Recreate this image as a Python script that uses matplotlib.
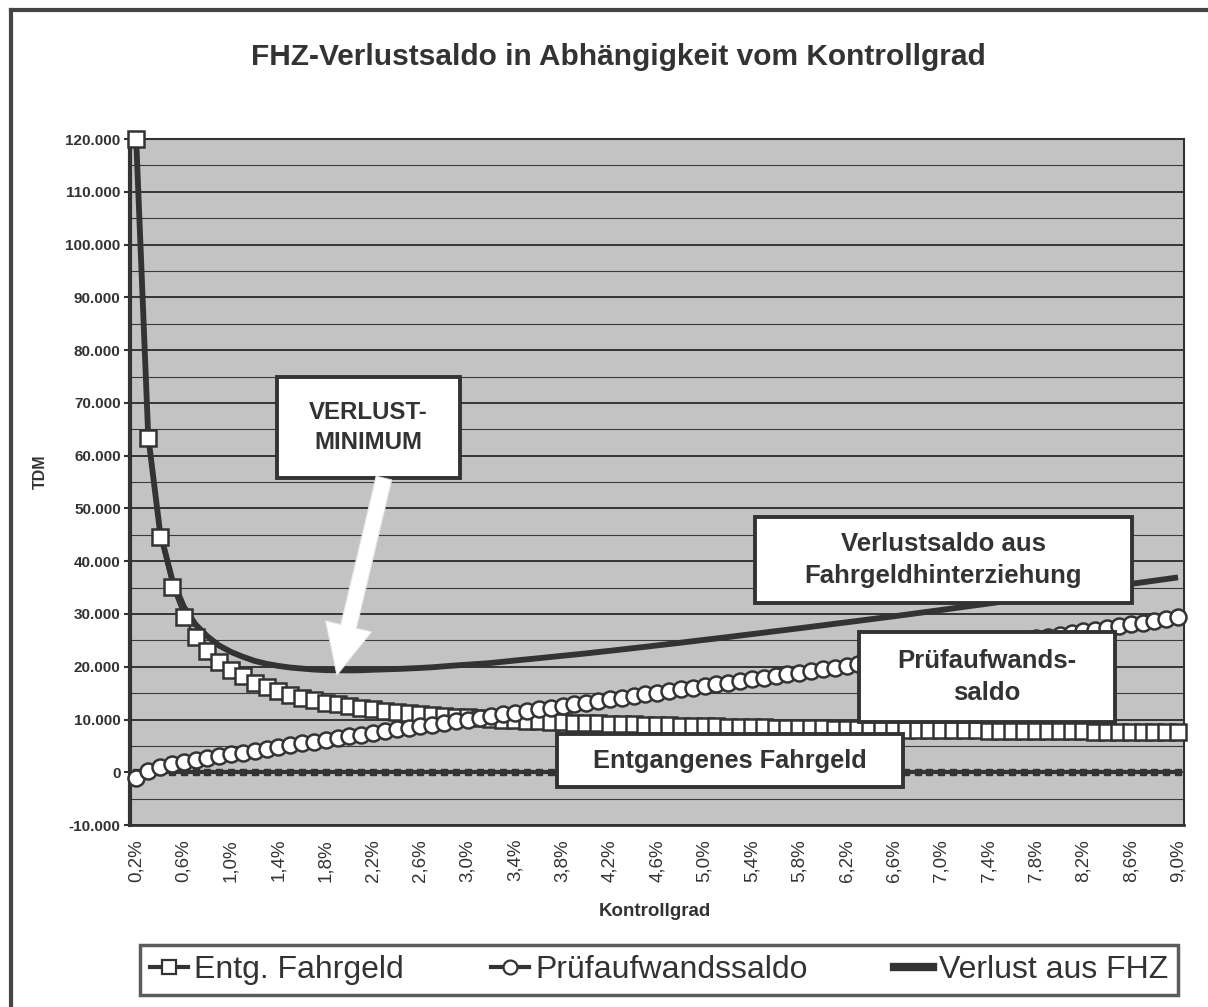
import numpy as np
import matplotlib
matplotlib.use("Agg")
import matplotlib.pyplot as plt
from matplotlib.patches import Rectangle
from matplotlib.lines import Line2D
from matplotlib.ticker import MultipleLocator, FuncFormatter

plt.rcParams['font.family'] = ['Liberation Sans', 'DejaVu Sans']

# Kontrollgrad in % (0,2 ... 9,0 in Schritten von 0,1)
kontrollgrad = [round(0.2 + 0.1 * i, 1) for i in range(89)]

# Entgangenes Fahrgeld (TDM)
entg_fahrgeld = [
    120000, 63400, 44500, 35200, 29400, 25600, 23000, 20900, 19400, 18150,
    17000, 16100, 15350, 14700, 14150, 13650, 13200, 12850, 12500, 12200,
    11950, 11700, 11450, 11250, 11050, 10850, 10700, 10550, 10400, 10250,
    10100, 10000, 9900, 9800, 9700, 9600, 9500, 9400, 9330, 9260,
    9190, 9120, 9060, 9000, 8940, 8880, 8830, 8780, 8730, 8680,
    8630, 8590, 8550, 8510, 8470, 8430, 8390, 8350, 8320, 8290,
    8250, 8220, 8190, 8160, 8130, 8100, 8070, 8040, 8010, 7990,
    7960, 7940, 7910, 7890, 7860, 7840, 7820, 7800, 7780, 7760,
    7740, 7720, 7700, 7680, 7660, 7640, 7620, 7600, 7580,
]

# Pruefaufwandssaldo (TDM)
pruefaufwand = [
    -1000, 300, 1000, 1550, 2000, 2400, 2750, 3100, 3400, 3730,
    4100, 4450, 4800, 5150, 5500, 5820, 6150, 6480, 6800, 7130,
    7480, 7800, 8120, 8420, 8720, 9050, 9380, 9700, 10000, 10300,
    10620, 10950, 11280, 11600, 11920, 12250, 12580, 12900, 13200, 13520,
    13830, 14150, 14470, 14780, 15100, 15420, 15730, 16050, 16370, 16680,
    17000, 17320, 17630, 17950, 18270, 18580, 18900, 19220, 19530, 19850,
    20170, 20480, 20800, 21120, 21430, 21760, 22090, 22420, 22750, 23080,
    23410, 23740, 24070, 24400, 24730, 25060, 25390, 25720, 26050, 26380,
    26710, 27040, 27370, 27700, 28030, 28360, 28690, 29020, 29350,
]

# Verlust aus FHZ = Entg. Fahrgeld + Pruefaufwandssaldo
verlust = [a + b for a, b in zip(entg_fahrgeld, pruefaufwand)]

labels = [("%.1f%%" % k).replace('.', ',') for k in kontrollgrad]

DARK = '#333333'
x = np.arange(len(kontrollgrad))

fig = plt.figure(figsize=(12.08, 10.07), dpi=100)
ax = fig.add_axes([0.1080, 0.1807, 0.8721, 0.6812])
ax.set_facecolor('#c3c3c3')

ax.plot(x, verlust, color=DARK, lw=4.2, zorder=3, solid_capstyle='butt')
ax.plot(x, entg_fahrgeld, color=DARK, lw=1.5, marker='s', ms=11,
        mfc='white', mec=DARK, mew=1.8, zorder=4, clip_on=False)
ax.plot(x, pruefaufwand, color=DARK, lw=1.5, marker='o', ms=11.5,
        mfc='white', mec=DARK, mew=1.8, zorder=5, clip_on=False)
# Nulllinie (gepunktet)
ax.plot(x, [0] * len(x), color=DARK, lw=3, marker='s', ms=4,
        mfc=DARK, mec=DARK, zorder=2)

ax.set_xlim(-0.5, len(x) - 0.5)
ax.set_ylim(-10000, 120000)
ax.yaxis.set_major_locator(MultipleLocator(10000))
ax.yaxis.set_minor_locator(MultipleLocator(5000))
ax.yaxis.set_major_formatter(FuncFormatter(lambda v, p: format(int(v), ',').replace(',', '.')))
ax.grid(which='major', axis='y', color='#2a2a2a', lw=1.3, zorder=1)
ax.grid(which='minor', axis='y', color='#3a3a3a', lw=0.8, zorder=1)
ax.set_axisbelow(True)

ax.set_xticks(x[::4])
ax.set_xticklabels(labels[::4], rotation=90, fontsize=13.5, color=DARK)
ax.tick_params(axis='x', length=0, pad=10)
ax.tick_params(axis='y', which='major', length=4, width=1.5, color=DARK,
               labelsize=11, labelcolor=DARK, pad=3)
ax.tick_params(axis='y', which='minor', length=0)
for lab in ax.get_yticklabels():
    lab.set_fontweight('bold')

for s in ['left', 'bottom', 'right', 'top']:
    ax.spines[s].set_color(DARK)
ax.spines['left'].set_linewidth(3)
ax.spines['bottom'].set_linewidth(2)
ax.spines['right'].set_linewidth(1.5)
ax.spines['top'].set_linewidth(1.5)

# Textkaesten
def box(x0, x1, y0, y1, lines, fs):
    ax.add_patch(Rectangle((x0, y0), x1 - x0, y1 - y0, transform=ax.transAxes,
                           facecolor='white', edgecolor=DARK, lw=2.8,
                           zorder=6, clip_on=False))
    ax.text((x0 + x1) / 2, (y0 + y1) / 2, lines, transform=ax.transAxes,
            ha='center', va='center', fontsize=fs, fontweight='bold',
            color=DARK, linespacing=1.4, zorder=7)

box(0.139, 0.3128, 0.5058, 0.653, "VERLUST-\nMINIMUM", 17.3)
box(0.5928, 0.9504, 0.3232, 0.4494, "Verlustsaldo aus\nFahrgeldhinterziehung", 18.5)
box(0.6916, 0.9342, 0.1506, 0.2818, "Prüfaufwands-\nsaldo", 18.5)
box(0.4048, 0.7333, 0.0554, 0.1327, "Entgangenes Fahrgeld", 18.3)

ax.annotate('', xy=(0.196, 0.2187), xycoords='axes fraction',
            xytext=(0.2406, 0.5058), textcoords='axes fraction',
            arrowprops=dict(arrowstyle='simple,head_length=3.6,head_width=3.4,tail_width=1.15',
                            fc='white', ec='#e6e6e6', lw=0.8, mutation_scale=10,
                            shrinkA=0, shrinkB=0),
            zorder=8)

fig.text(0.512, 1 - 57 / 1007, "FHZ-Verlustsaldo in Abhängigkeit vom Kontrollgrad",
         ha='center', va='center', fontsize=21.5, fontweight='bold', color=DARK)
fig.text(40 / 1208, 1 - 472 / 1007, "TDM", rotation=90, ha='center', va='center',
         fontsize=11.5, fontweight='bold', color=DARK)
fig.text(655 / 1208, 1 - 912 / 1007, "Kontrollgrad", ha='center', va='center',
         fontsize=13.5, fontweight='bold', color=DARK)

handles = [
    Line2D([], [], color=DARK, lw=3, marker='s', ms=10, mfc='white', mec=DARK, mew=1.6),
    Line2D([], [], color=DARK, lw=3, marker='o', ms=10, mfc='white', mec=DARK, mew=1.6),
    Line2D([], [], color=DARK, lw=6),
]
leg = fig.legend(handles, ["Entg. Fahrgeld", "Prüfaufwandssaldo", "Verlust aus FHZ"],
                 loc='center', bbox_to_anchor=(140 / 1208, 7 / 1007, 1038 / 1208, 60 / 1007),
                 mode='expand', ncol=3, fancybox=False, handlelength=1.2,
                 handletextpad=0.2, borderaxespad=0, borderpad=0.3,
                 prop={'size': 23})
leg.get_frame().set_edgecolor(DARK)
leg.get_frame().set_linewidth(2.5)
for t in leg.get_texts():
    t.set_color(DARK)

# Rahmen links und oben
fig.add_artist(Line2D([11 / 1208, 11 / 1208], [0, 1 - 10 / 1007], transform=fig.transFigure,
                      color='#444444', lw=3))
fig.add_artist(Line2D([11 / 1208, 1], [1 - 10 / 1007, 1 - 10 / 1007], transform=fig.transFigure,
                      color='#444444', lw=3))

fig.savefig("out.png", dpi=100)
